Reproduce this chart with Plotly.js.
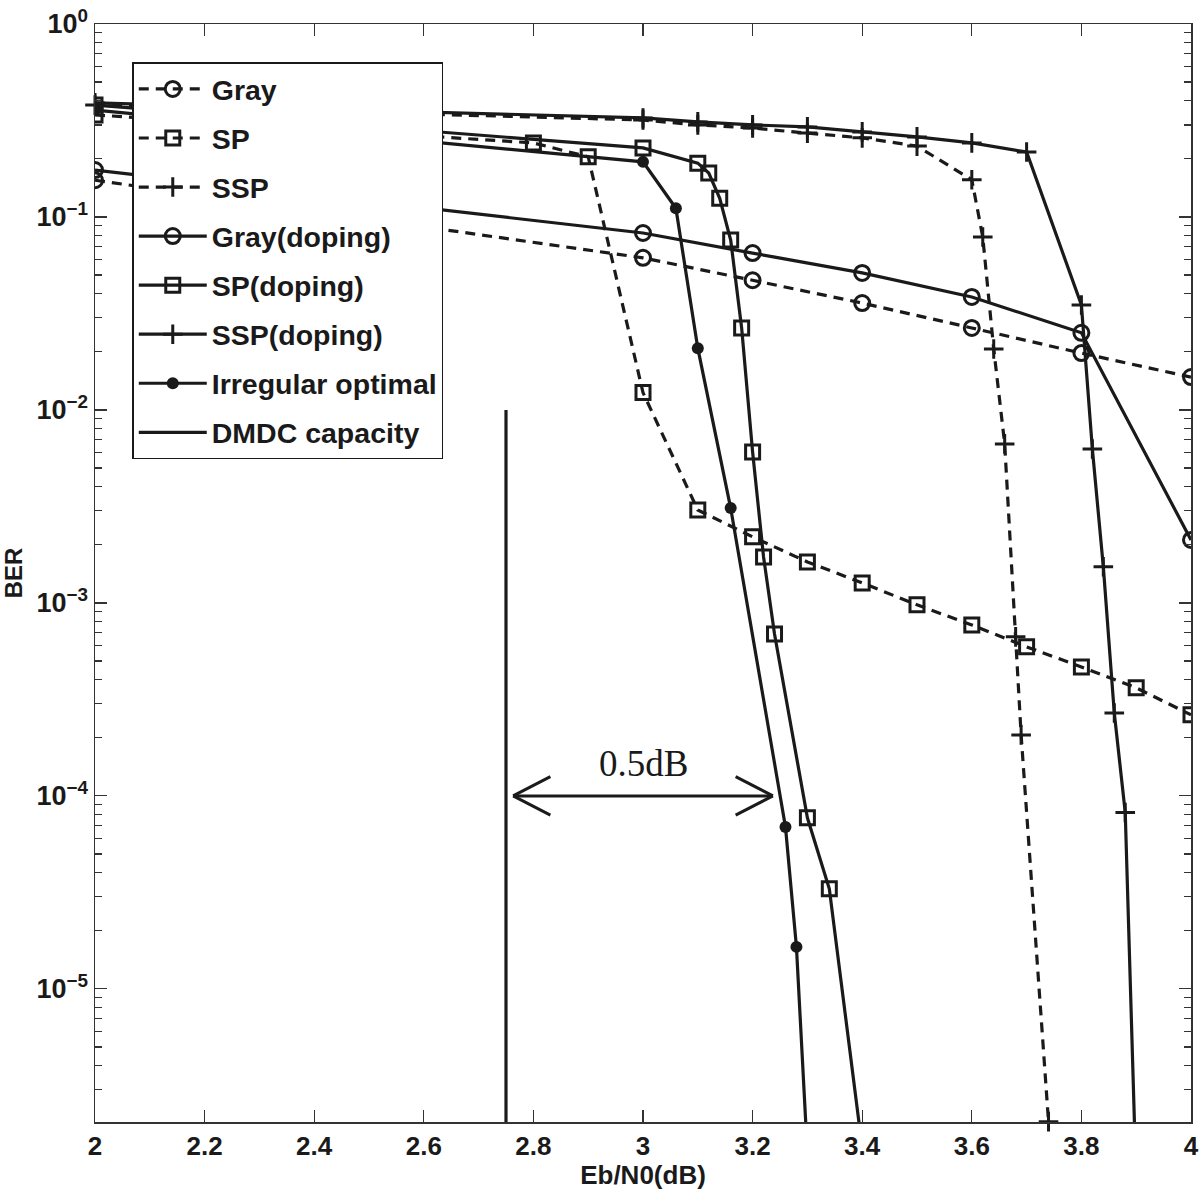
<!DOCTYPE html>
<html>
<head>
<meta charset="utf-8">
<script src="https://cdn.plot.ly/plotly-3.0.1.min.js"></script>
<style>html,body{margin:0;padding:0;background:#fff;}#chart{width:1200px;height:1190px;}</style>
</head>
<body>
<div id="chart"></div>
<script>
// ---- data ----
const grayX = [2.0, 3.0, 3.2, 3.4, 3.6, 3.8, 4.0];
const grayY = [0.155, 0.0614, 0.047, 0.0358, 0.0266, 0.0197, 0.0148];

const spX = [2.0, 2.8, 2.9, 3.0, 3.1, 3.2, 3.3, 3.4, 3.5, 3.6, 3.7, 3.8, 3.9, 4.0];
const spY = [0.338, 0.242, 0.205, 0.0123, 0.00303, 0.0022, 0.00163, 0.00127, 9.77e-4, 7.69e-4, 5.92e-4, 4.66e-4, 3.63e-4, 2.63e-4];

const sspX = [2.0, 3.0, 3.1, 3.2, 3.3, 3.4, 3.5, 3.6, 3.62, 3.64, 3.66, 3.68, 3.69, 3.74];
const sspY = [0.38, 0.318, 0.30, 0.289, 0.272, 0.257, 0.233, 0.156, 0.0787, 0.0207, 0.00667, 6.67e-4, 2.07e-4, 2.05e-6];

const grayDopX = [2.0, 3.0, 3.2, 3.4, 3.6, 3.8, 4.0];
const grayDopY = [0.175, 0.0826, 0.065, 0.0513, 0.0385, 0.0251, 0.00212];

const spDopX = [2.0, 3.0, 3.1, 3.12, 3.14, 3.16, 3.18, 3.2, 3.22, 3.24, 3.3, 3.34, 3.4];
const spDopY = [0.38, 0.228, 0.19, 0.169, 0.125, 0.076, 0.0266, 0.00606, 0.00173, 6.9e-4, 7.7e-5, 3.3e-5, 1.5e-6];

const sspDopX = [2.0, 3.0, 3.1, 3.2, 3.3, 3.4, 3.5, 3.6, 3.7, 3.8, 3.82, 3.84, 3.86, 3.88, 3.9];
const sspDopY = [0.39, 0.326, 0.311, 0.30, 0.293, 0.276, 0.26, 0.242, 0.217, 0.035, 0.00628, 0.00154, 2.69e-4, 8.2e-5, 1.0e-6];

const irrX = [2.0, 3.0, 3.06, 3.1, 3.16, 3.26, 3.28, 3.3];
const irrY = [0.358, 0.193, 0.111, 0.0209, 0.0031, 6.9e-5, 1.65e-5, 1.4e-6];

const capX = [2.75, 2.75];
const capY = [2.0e-6, 1.0e-2];

const seriesNames = ['Gray', 'SP', 'SSP', 'Gray(doping)', 'SP(doping)', 'SSP(doping)', 'Irregular optimal', 'DMDC capacity'];

const xTickVals = [2, 2.2, 2.4, 2.6, 2.8, 3, 3.2, 3.4, 3.6, 3.8, 4];
const xTickText = ['2', '2.2', '2.4', '2.6', '2.8', '3', '3.2', '3.4', '3.6', '3.8', '4'];
const yTickVals = [1, 0.1, 0.01, 0.001, 1e-4, 1e-5];
const yTickText = ['10<sup>0</sup>', '10<sup>\u22121</sup>', '10<sup>\u22122</sup>', '10<sup>\u22123</sup>', '10<sup>\u22124</sup>', '10<sup>\u22125</sup>'];

const gapLabel = '0.5dB';
const gapFrom = 2.763, gapTo = 3.237, gapLevel = 1e-4;

// ---- styling ----
const black = '#1a1a1a';
const LW = 3.2;
const dashPat = '10px,7px';
const fontFam = '"Liberation Sans", Arial, Helvetica, sans-serif';

function tr(name, x, y, dash, symbol, size, extra) {
  return Object.assign({
    type: 'scatter', mode: 'lines+markers', name: name, x: x, y: y,
    legendgroup: name,
    line: {color: black, width: LW, dash: dash},
    marker: {symbol: symbol, size: size, color: black, line: {color: black, width: 3}}
  }, extra || {});
}

const traces = [
  tr(seriesNames[0], grayX, grayY, dashPat, 'circle-open', 15),
  tr(seriesNames[1], spX, spY, dashPat, 'square-open', 14),
  tr(seriesNames[2], sspX, sspY, dashPat, 'cross-thin-open', 14, {cliponaxis: false}),
  tr(seriesNames[3], grayDopX, grayDopY, 'solid', 'circle-open', 15),
  tr(seriesNames[4], spDopX, spDopY, 'solid', 'square-open', 14),
  tr(seriesNames[5], sspDopX, sspDopY, 'solid', 'cross-thin-open', 14),
  tr(seriesNames[6], irrX, irrY, 'solid', 'circle', 12, {marker: {symbol: 'circle', size: 12, color: black}}),
  {type: 'scatter', mode: 'lines', name: seriesNames[7], x: capX, y: capY, legendgroup: seriesNames[7],
   line: {color: black, width: LW}}
];

// minor tick positions (2..9 within each decade)
const minorVals = [];
for (let e = -6; e < 0; e++) for (let m = 2; m <= 9; m++) minorVals.push(m * Math.pow(10, e));

// double-headed arrow (shapes on a log axis take data values)
const hx = 0.068, hf = Math.pow(10, 0.1);
const arrowLine = {color: black, width: 3};
function seg(xa, ya, xb, yb) {
  return {type: 'line', xref: 'x', yref: 'y', x0: xa, y0: ya, x1: xb, y1: yb, line: arrowLine};
}
const shapes = [
  seg(gapFrom, gapLevel, gapTo, gapLevel),
  seg(gapFrom, gapLevel, gapFrom + hx, gapLevel * hf),
  seg(gapFrom, gapLevel, gapFrom + hx, gapLevel / hf),
  seg(gapTo, gapLevel, gapTo - hx, gapLevel * hf),
  seg(gapTo, gapLevel, gapTo - hx, gapLevel / hf)
];

const layout = {
  width: 1200, height: 1190,
  margin: {l: 95, r: 9, t: 24, b: 68},
  paper_bgcolor: '#fff', plot_bgcolor: '#fff',
  font: {family: fontFam, color: black, size: 26},
  showlegend: true,
  legend: {
    x: 0.034, y: 0.965, xanchor: 'left', yanchor: 'top',
    bgcolor: '#fff', bordercolor: black, borderwidth: 1.5,
    font: {family: fontFam, size: 28.5, weight: 'bold', color: black},
    traceorder: 'grouped', tracegroupgap: 9, itemwidth: 68
  },
  xaxis: {
    range: [2, 4], tickmode: 'array', tickvals: xTickVals, ticktext: xTickText,
    ticks: 'inside', ticklen: 12, tickwidth: 1.2, tickcolor: '#333',
    showline: true, linecolor: '#333', linewidth: 1.5, mirror: 'ticks',
    showgrid: false, zeroline: false,
    tickfont: {family: fontFam, size: 26, weight: 'bold', color: black},
    title: {text: 'Eb/N0(dB)', font: {family: fontFam, size: 26, weight: 'bold', color: black}, standoff: 2}
  },
  yaxis: {
    type: 'log', range: [-5.69, 0], tickmode: 'array', tickvals: yTickVals, ticktext: yTickText,
    ticks: 'inside', ticklen: 12, tickwidth: 1.2, tickcolor: '#333',
    minor: {tickmode: 'array', tickvals: minorVals, ticks: 'inside', ticklen: 7, tickwidth: 1.2, tickcolor: '#333', showgrid: false},
    showline: true, linecolor: '#333', linewidth: 1.5, mirror: 'ticks',
    showgrid: false, zeroline: false,
    tickfont: {family: fontFam, size: 27, weight: 'bold', color: black},
    title: {text: 'BER', font: {family: fontFam, size: 24, weight: 'bold', color: black}, standoff: 8}
  },
  shapes: shapes,
  annotations: [{
    xref: 'x', yref: 'y', x: (gapFrom + gapTo) / 2, y: Math.log10(gapLevel) + 0.05, yanchor: 'bottom',
    text: gapLabel, showarrow: false,
    font: {family: '"Liberation Serif", "Times New Roman", serif', size: 37, color: black}
  }]
};

Plotly.newPlot('chart', traces, layout, {staticPlot: true, displayModeBar: false});
</script>
</body>
</html>
